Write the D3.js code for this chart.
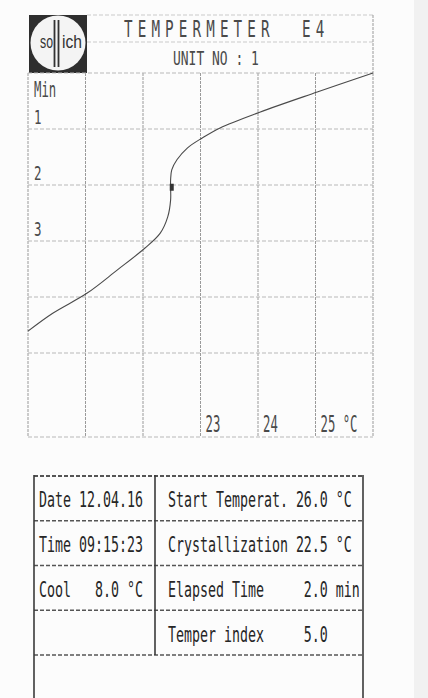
<!DOCTYPE html>
<html>
<head>
<meta charset="utf-8">
<script src="https://cdn.jsdelivr.net/npm/d3@7"></script>
<style>
  body { margin: 0; background: #fcfcfc; }
  svg { display: block; }
  text { white-space: pre; }
  .grid { stroke: #9a9a9a; stroke-width: 1; stroke-dasharray: 3 1; }
  .hgrid { stroke: #b8b8b8; stroke-width: 1; stroke-dasharray: 4 2; }
  .lbl { font-family: "DejaVu Sans Mono", "Liberation Mono", monospace; fill: #4a4a4a; }
  .tbl { font-family: "DejaVu Sans Mono", "Liberation Mono", monospace; fill: #262626; }
  .tline { stroke: #3a3a3a; stroke-width: 1.6; }
  .tdash { stroke: #555; stroke-width: 1.3; stroke-dasharray: 4 2; }
</style>
</head>
<body>
<div id="chart"></div>
<script>
// curve: temperature (°C) against time (min)
var times = [0, 0.34, 0.70, 0.98, 1.16, 1.34, 1.55, 1.73, 1.91, 2.04, 2.27, 2.57, 2.86, 3.13, 3.52, 3.93, 4.29, 4.61];
var temps = [26.0, 25.03, 24.03, 23.34, 23.03, 22.77, 22.59, 22.50, 22.48, 22.48, 22.48, 22.43, 22.30, 22.03, 21.55, 21.03, 20.43, 20.0];
var crystTime = 2.04, crystTemp = 22.5;

var tempTicks = [20, 21, 22, 23, 24, 25, 26];
var tempLabels = ['', '', '', '23', '24', '25 °C', ''];
var minTicks = [1, 2, 3, 4, 5];
var minLabels = ['1', '2', '3', '', ''];

var title = 'TEMPERMETER  E4';
var unitNo = 'UNIT NO : 1';

var leftLabels = ['Date', 'Time', 'Cool', ''];
var leftValues = ['12.04.16', '09:15:23', '8.0 °C', ''];
var rightLabels = ['Start Temperat.', 'Crystallization', 'Elapsed Time', 'Temper index'];
var rightValues = ['26.0', '22.5', '2.0', '5.0'];
var rightUnits = ['°C', '°C', 'min', ''];

var W = 428, H = 698;
var svg = d3.select('#chart').append('svg')
    .attr('width', W)
    .attr('height', H);

// paper edge on the right
svg.append('rect').attr('x', 414).attr('y', 0).attr('width', 14).attr('height', H).attr('fill', '#f1f1f1');

var x = d3.scaleLinear().domain([20, 26]).range([28, 373]);
var y = d3.scaleLinear().domain([0, 6.5]).range([73, 437]);

// printer font: mono glyphs squeezed horizontally to a fixed pitch
var MONO_ADV = 0.602;
function printText(parent, cls, px, py, str, size, pitch) {
    var sx = pitch / (size * MONO_ADV);
    return parent.append('text')
        .attr('class', cls)
        .attr('transform', 'translate(' + px + ',' + py + ') scale(' + sx.toFixed(3) + ',1)')
        .style('font-size', size + 'px')
        .text(str);
}

// header
var header = svg.append('g');
header.append('line').attr('class', 'hgrid').attr('x1', 87).attr('x2', 373).attr('y1', 15).attr('y2', 15).style('stroke', '#cacaca');
header.append('line').attr('class', 'hgrid').attr('x1', 87).attr('x2', 373).attr('y1', 42).attr('y2', 42).style('stroke', '#cacaca');
header.append('line').attr('class', 'grid').attr('x1', 373).attr('x2', 373).attr('y1', 15).attr('y2', 73);

// title letters sit on a wide pitch, each glyph narrow
header.selectAll('.tchar').data(title.split('')).enter().append('text')
    .attr('class', 'lbl')
    .attr('transform', (d, i) => 'translate(' + (124 + i * 13.7) + ',37) scale(0.62,1)')
    .style('font-size', '23px')
    .text(d => d);
printText(header, 'lbl', 173, 65, unitNo, 20, 7.8);

// logo
var logo = svg.append('g');
logo.append('rect').attr('x', 29).attr('y', 15).attr('width', 58).attr('height', 58).attr('fill', '#2e2e2e');
logo.append('circle').attr('cx', 58).attr('cy', 43).attr('r', 27.5).attr('fill', '#f4f4f4');
logo.append('text').attr('x', 40).attr('y', 48)
    .attr('textLength', 13).attr('lengthAdjust', 'spacingAndGlyphs')
    .style('font-family', 'Liberation Sans, sans-serif').style('font-size', '19px').attr('fill', '#333')
    .text('so');
logo.append('text').attr('x', 62).attr('y', 48)
    .attr('textLength', 20).attr('lengthAdjust', 'spacingAndGlyphs')
    .style('font-family', 'Liberation Sans, sans-serif').style('font-size', '19px').attr('fill', '#333')
    .text('ich');
logo.selectAll('.bar').data([54.5, 58.5]).enter().append('rect')
    .attr('x', d => d - 0.9).attr('y', 20).attr('width', 1.8).attr('height', 47).attr('fill', '#333');

// grid
svg.selectAll('.vgrid').data(tempTicks).enter().append('line')
    .attr('class', 'grid')
    .attr('x1', d => x(d)).attr('x2', d => x(d))
    .attr('y1', y(0)).attr('y2', y(6.5));
svg.append('line').attr('class', 'hgrid').attr('x1', x(20)).attr('x2', x(26)).attr('y1', y(0)).attr('y2', y(0));
svg.append('line').attr('class', 'hgrid').attr('x1', x(20)).attr('x2', x(26)).attr('y1', y(6.5)).attr('y2', y(6.5));
svg.selectAll('.hg').data(minTicks).enter().append('line')
    .attr('class', 'hgrid')
    .attr('x1', x(20)).attr('x2', x(26))
    .attr('y1', d => y(d)).attr('y2', d => y(d));

// axis labels
printText(svg, 'lbl', 34, 97, 'Min', 20.5, 7.4);
minTicks.forEach((d, i) => { if (minLabels[i]) printText(svg, 'lbl', 34, y(d) - 5, minLabels[i], 19, 7.5); });
tempTicks.forEach((d, i) => { if (tempLabels[i]) printText(svg, 'lbl', x(d) + 5, 432, tempLabels[i], 23, 7.4); });

// temper curve
var pts = times.map((t, i) => [temps[i], t]);
var line = d3.line()
    .x(d => x(d[0]))
    .y(d => y(d[1]))
    .curve(d3.curveCatmullRom.alpha(0.5));
svg.append('path')
    .datum(pts)
    .attr('d', line)
    .attr('fill', 'none')
    .attr('stroke', '#4a4a4a')
    .attr('stroke-width', 1.1);
svg.append('rect')
    .attr('x', x(crystTemp) - 2).attr('y', y(crystTime) - 3.5)
    .attr('width', 4).attr('height', 7)
    .attr('fill', '#333');

// result table
var rowY = d3.scaleBand().domain(d3.range(4)).range([476, 655]);
var tbl = svg.append('g');
tbl.append('line').attr('class', 'tdash').attr('x1', 34).attr('x2', 363).attr('y1', 476).attr('y2', 476).style('stroke-width', 2);
tbl.selectAll('.rl').data(d3.range(4)).enter().append('line')
    .attr('class', 'tdash')
    .attr('x1', 34).attr('x2', 363)
    .attr('y1', d => rowY(d) + rowY.bandwidth()).attr('y2', d => rowY(d) + rowY.bandwidth());
tbl.append('line').attr('class', 'tline').attr('x1', 34).attr('x2', 34).attr('y1', 475).attr('y2', H);
tbl.append('line').attr('class', 'tline').attr('x1', 155).attr('x2', 155).attr('y1', 475).attr('y2', 655);
tbl.append('line').attr('class', 'tline').attr('x1', 363).attr('x2', 363).attr('y1', 475).attr('y2', H);

// fixed-pitch rows: left cell 13 columns, right cell label/number/unit columns
var pitch = 8;
d3.range(4).forEach(i => {
    var by = rowY(i) + rowY.bandwidth() / 2 + 9;
    var left = leftLabels[i] ? leftLabels[i].padEnd(13 - leftValues[i].length) + leftValues[i] : '';
    var right = rightLabels[i].padEnd(16) + rightValues[i].padStart(4) + (rightUnits[i] ? ' ' + rightUnits[i] : '');
    if (left) printText(tbl, 'tbl', 39, by, left, 22, pitch);
    printText(tbl, 'tbl', 168, by, right, 22, pitch);
});
</script>
</body>
</html>
